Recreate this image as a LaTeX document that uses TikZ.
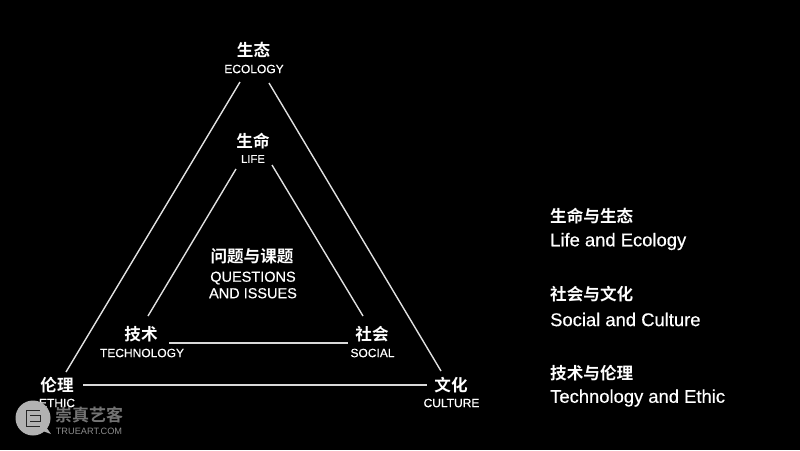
\documentclass[tikz,border=0pt]{standalone}
\usepackage{fontspec}
\setmainfont{Liberation Sans}[FakeBold=0.45]
\newfontfamily\plainf{Liberation Sans}
\newfontfamily\cjkb{Noto Sans CJK SC Bold}
\begin{document}
\begin{tikzpicture}[x=1pt,y=-1pt,
  zh/.style={text=white,inner sep=0pt,font=\cjkb\fontsize{16.6}{18}\selectfont},
  en/.style={text=white,inner sep=0pt,font=\fontsize{12}{14}\selectfont},
  zhside/.style={text=white,inner sep=0pt,anchor=west,font=\cjkb\fontsize{16.6}{18}\selectfont},
  enside/.style={text=white,inner sep=0pt,anchor=west,font=\fontsize{18.4}{21}\selectfont},
  link/.style={draw=white!88!black,line width=1.4pt},
  hlink/.style={draw=white!85!black,line width=1.1pt}]
\useasboundingbox (0,0) rectangle (800,450);
\fill[black] (0,0) rectangle (800,450);
% labels
\node[zh] (ecoz) at (253.5,50) {生态};
\node[en] (ecoe) at (254,69) {ECOLOGY};
\node[zh] (lifez) at (253,141) {生命};
\node[en,font=\fontsize{11.3}{13}\selectfont] (lifee) at (253,159) {LIFE};
\node[zh] (qz) at (252,256) {问题与课题};
\node[en,font=\fontsize{14.5}{16}\selectfont,align=center] (qe) at (253,285) {QUESTIONS\\[0.5pt]AND ISSUES};
\node[zh] (techz) at (141,334) {技术};
\node[en] (teche) at (142,353) {TECHNOLOGY};
\node[zh] (socz) at (372,334) {社会};
\node[en] (soce) at (372.5,353) {SOCIAL};
\node[zh] (ethz) at (57,385) {伦理};
\node[en] (ethe) at (57,403) {ETHIC};
\node[zh] (culz) at (451,385) {文化};
\node[en] (cule) at (451.5,403) {CULTURE};
% side text
\node[zhside] (s1z) at (550,216) {生命与生态};
\node[enside] (s1e) at (550,241.5) {Life and Ecology};
\node[zhside] (s2z) at (550,294) {社会与文化};
\node[enside] (s2e) at (550,319.5) {Social and Culture};
\node[zhside] (s3z) at (550,373) {技术与伦理};
\node[enside] (s3e) at (550,398) {Technology and Ethic};
% connector ends
\coordinate (o1) at (240,82); \coordinate (o2) at (66,372);
\coordinate (o3) at (269,83); \coordinate (o4) at (441,371);
\coordinate (o5) at (83,385); \coordinate (o6) at (427,385);
\coordinate (i1) at (236,169); \coordinate (i2) at (148,316);
\coordinate (i3) at (272,165); \coordinate (i4) at (363,316);
\coordinate (i5) at (169,343); \coordinate (i6) at (348,343);
\draw[link] (o1) -- (o2);
\draw[link] (o3) -- (o4);
\draw[hlink] (o5) -- (o6);
\draw[link] (i1) -- (i2);
\draw[link] (i3) -- (i4);
\draw[hlink] (i5) -- (i6);
% watermark
\fill[black!30!white] (33,418) circle (17.5);
\fill[black!30!white] (40,430) -- (51,434) -- (44,424) -- cycle;
\draw[black!85,line width=1pt] (26,410) -- (40,410) (26,410) -- (26,426) -- (40,426) (30,415) -- (40,415) (30,421) -- (40,421) -- (40,415);
\node[text=black!55!white,inner sep=0pt,font=\cjkb\fontsize{17}{19}\selectfont] (wz) at (89,415) {崇真艺客};
\node[text=black!45!white,inner sep=0pt,font=\plainf\fontsize{9.2}{12}\selectfont] (we) at (89,431) {TRUEART.COM};
\end{tikzpicture}
\end{document}
